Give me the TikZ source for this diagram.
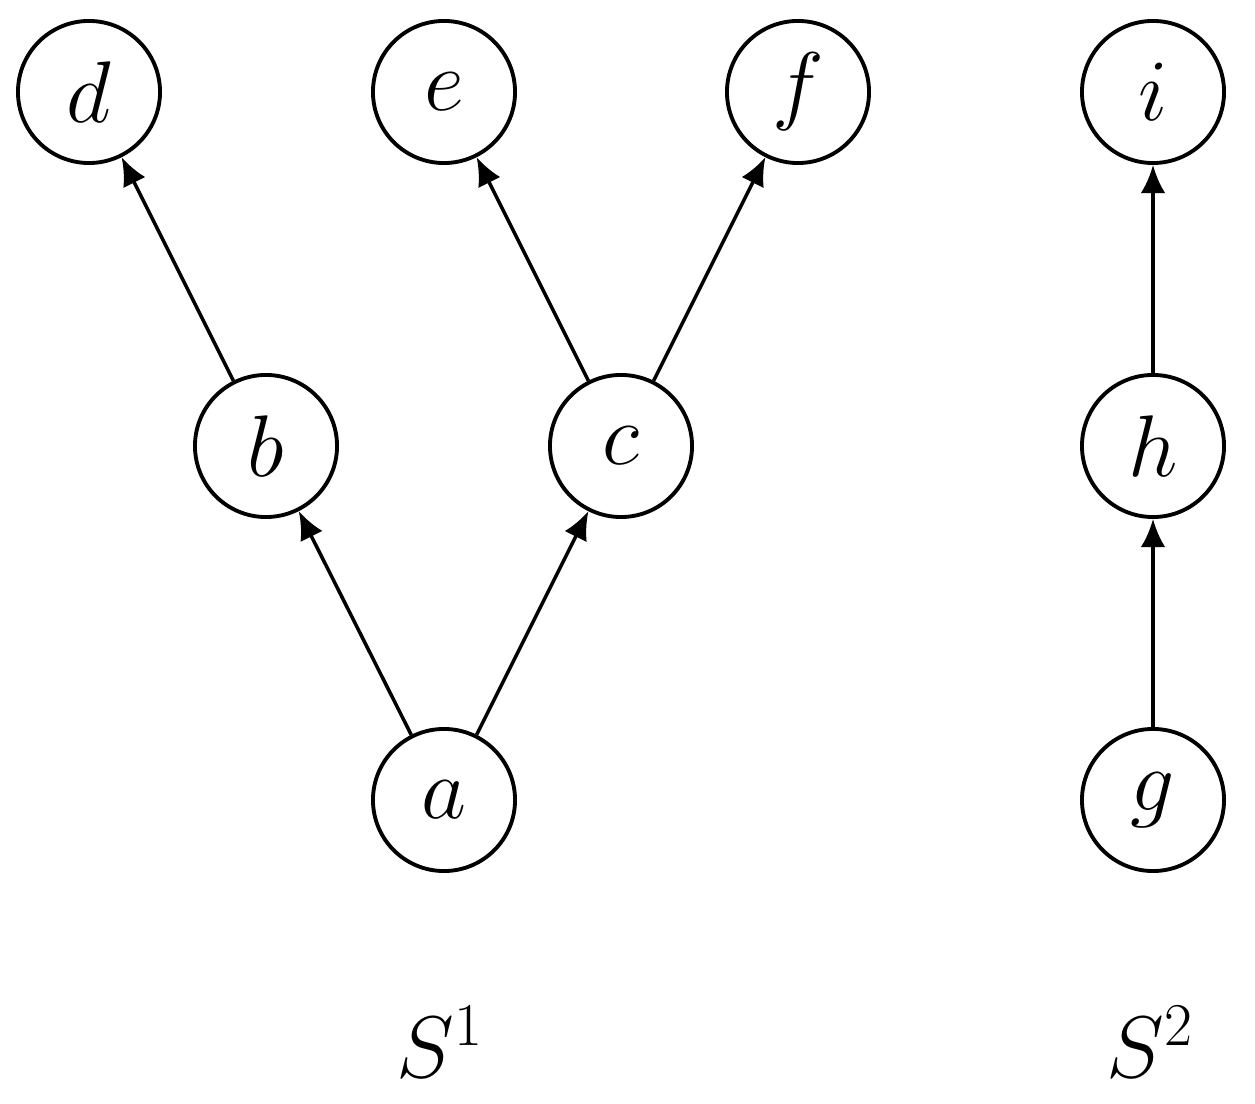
\documentclass[tikz,border=0pt]{standalone}
\usetikzlibrary{arrows.meta}
\begin{document}
\begin{tikzpicture}[x=0.01cm,y=-0.01cm,
  vtx/.style={circle,draw,line width=1.1pt,minimum size=1.42cm,inner sep=0pt,font=\fontsize{24}{28}\selectfont},
  edge/.style={line width=1.0pt,-{Latex[length=8pt,width=7pt]}},
  lbl/.style={font=\fontsize{25}{30}\selectfont}]
\useasboundingbox (0,0) rectangle (1255,1104);
\node[vtx] (d) at (89,92) {$d$};
\node[vtx] (e) at (444,92) {$e$};
\node[vtx] (f) at (798,92) {$f$};
\node[vtx] (i) at (1153,92) {$i$};
\node[vtx] (b) at (266,446) {$b$};
\node[vtx] (c) at (621,446) {$c$};
\node[vtx] (h) at (1153,446) {$h$};
\node[vtx] (a) at (444,800) {$a$};
\node[vtx] (g) at (1153,800) {$g$};
\node[lbl] (s1) at (440,1042) {$S^1$};
\node[lbl] (s2) at (1150,1042) {$S^2$};
\draw[edge] (a) -- (b);
\draw[edge] (a) -- (c);
\draw[edge] (b) -- (d);
\draw[edge] (c) -- (e);
\draw[edge] (c) -- (f);
\draw[edge] (g) -- (h);
\draw[edge] (h) -- (i);
\end{tikzpicture}
\end{document}
